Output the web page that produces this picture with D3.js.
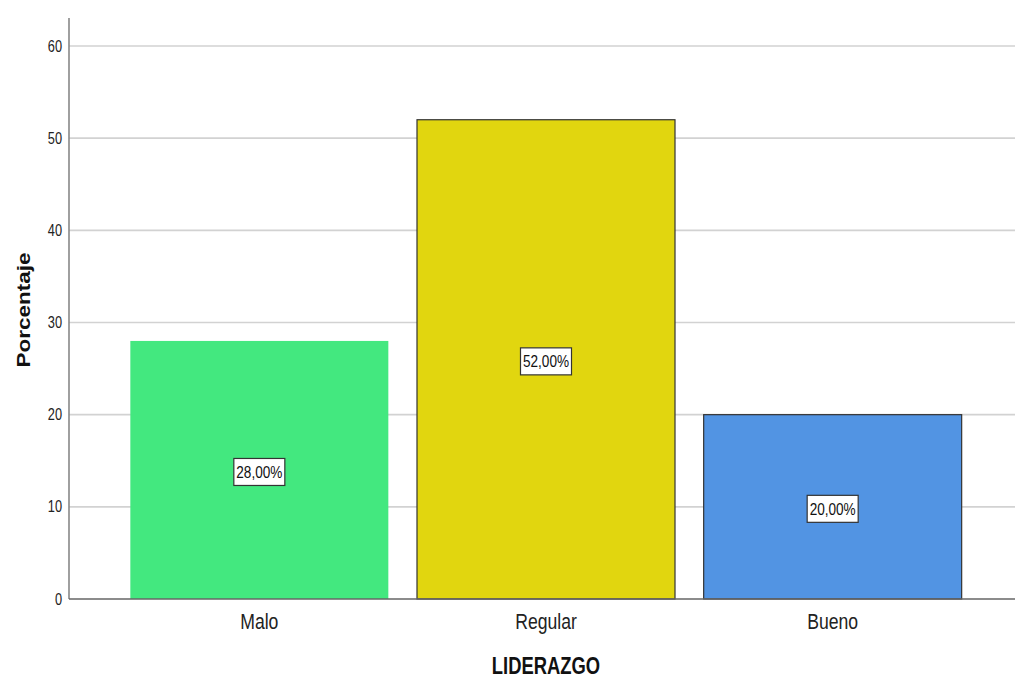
<!DOCTYPE html>
<html>
<head>
<meta charset="utf-8">
<script src="https://cdn.jsdelivr.net/npm/d3@7"></script>
<style>
  html, body { margin: 0; padding: 0; background: #ffffff; }
  svg { display: block; }
</style>
</head>
<body>
<svg id="chart" width="1015" height="677"></svg>
<script>
// Categories, values (percent) and colours of the bar chart
const categories = ["Malo", "Regular", "Bueno"];
const percentages = [28, 52, 20];
const barColors = ["#43E87F", "#E1D60F", "#5294E3"];
const barStrokes = ["none", "#333333", "#333333"];
const yTicks = [0, 10, 20, 30, 40, 50, 60];
const xTitle = "LIDERAZGO";
const yTitle = "Porcentaje";

// Text in this chart is drawn horizontally condensed
const squeeze = 0.8;
const font = "'Liberation Sans', Arial, sans-serif";

const svg = d3.select("#chart");
const plot = { left: 69, right: 1015, top: 18, bottom: 599 };

const y = d3.scaleLinear().domain([0, 60]).range([plot.bottom, 46]);
const x = d3.scaleBand()
  .domain(categories)
  .range([116, 976])
  .paddingInner(0.1)
  .paddingOuter(0.05);

// Horizontal grid lines
svg.append("g")
  .selectAll("line")
  .data(yTicks.filter(d => d > 0))
  .join("line")
  .attr("x1", plot.left)
  .attr("x2", plot.right)
  .attr("y1", d => y(d))
  .attr("y2", d => y(d))
  .attr("stroke", "#d2d2d2")
  .attr("stroke-width", 1.6);

// Bars
svg.append("g")
  .selectAll("rect")
  .data(categories)
  .join("rect")
  .attr("x", d => x(d))
  .attr("width", x.bandwidth())
  .attr("y", (d, i) => y(percentages[i]))
  .attr("height", (d, i) => y(0) - y(percentages[i]))
  .attr("fill", (d, i) => barColors[i])
  .attr("stroke", (d, i) => barStrokes[i])
  .attr("stroke-width", 1.2);

// Y axis
const yAxis = d3.axisLeft(y).tickValues(yTicks).tickSize(0).tickPadding(7);
const gy = svg.append("g")
  .attr("transform", `translate(${plot.left},0)`)
  .call(yAxis);
gy.select(".domain").remove();
gy.selectAll("text")
  .attr("x", -7 / squeeze)
  .attr("transform", `scale(${squeeze},1)`)
  .attr("font-family", font)
  .attr("font-size", 16)
  .attr("fill", "#222");

svg.append("line")
  .attr("x1", plot.left).attr("x2", plot.left)
  .attr("y1", plot.top).attr("y2", plot.bottom)
  .attr("stroke", "#888888").attr("stroke-width", 1.6);

// X axis baseline and category labels
svg.append("line")
  .attr("x1", plot.left).attr("x2", plot.right)
  .attr("y1", plot.bottom).attr("y2", plot.bottom)
  .attr("stroke", "#666666").attr("stroke-width", 1.6);

const xAxis = d3.axisBottom(x).tickSize(0);
const gx = svg.append("g")
  .attr("transform", `translate(0,${plot.bottom})`)
  .call(xAxis);
gx.select(".domain").remove();
gx.selectAll("text")
  .attr("y", 30)
  .attr("dy", 0)
  .attr("transform", `scale(${squeeze},1)`)
  .attr("font-family", font)
  .attr("font-size", 22)
  .attr("fill", "#222");

// Value labels in boxes
const labels = svg.append("g")
  .selectAll("g")
  .data(categories)
  .join("g")
  .attr("transform", (d, i) =>
    `translate(${x(d) + x.bandwidth() / 2},${y(percentages[i] / 2) + 2})`);

labels.append("rect")
  .attr("x", -25.5).attr("y", -13.5)
  .attr("width", 51).attr("height", 27)
  .attr("fill", "#ffffff")
  .attr("stroke", "#333333")
  .attr("stroke-width", 1.2);

labels.append("text")
  .attr("transform", `scale(${squeeze},1)`)
  .attr("text-anchor", "middle")
  .attr("dy", "0.36em")
  .attr("font-family", font)
  .attr("font-size", 17)
  .attr("fill", "#111")
  .text((d, i) => percentages[i].toFixed(2).replace(".", ",") + "%");

// Axis titles
svg.append("text")
  .attr("transform", `translate(${(x.range()[0] + x.range()[1]) / 2},674) scale(${squeeze},1)`)
  .attr("text-anchor", "middle")
  .attr("font-family", font)
  .attr("font-weight", "bold")
  .attr("font-size", 23)
  .attr("fill", "#111")
  .text(xTitle);

svg.append("text")
  .attr("transform", `translate(30,310) scale(${squeeze},1) rotate(-90)`)
  .attr("text-anchor", "middle")
  .attr("font-family", font)
  .attr("font-weight", "bold")
  .attr("font-size", 22.5)
  .attr("fill", "#111")
  .text(yTitle);
</script>
</body>
</html>
